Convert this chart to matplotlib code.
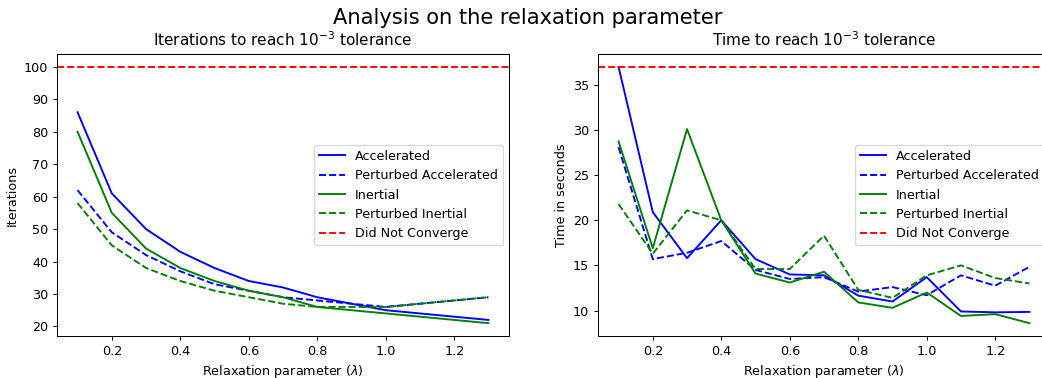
import numpy as np
import matplotlib
matplotlib.use("Agg")
import matplotlib.pyplot as plt

# relaxation parameter values
lam = [0.1, 0.2, 0.3, 0.4, 0.5, 0.6, 0.7, 0.8, 0.9, 1.0, 1.1, 1.2, 1.3]

# iterations to reach tolerance
it_acc = [86, 61, 50, 43, 38, 34, 32, 29, 27, 25, 24, 23, 22]
it_pacc = [62, 49, 42, 37, 33, 31, 29, 28, 27, 26, 27, 28, 29]
it_inert = [80, 55, 44, 38, 34, 31, 29, 26, 25, 24, 23, 22, 21]
it_pinert = [58, 45, 38, 34, 31, 29, 27, 26, 26, 26, 27, 28, 29]
it_max = 100

# time to reach tolerance (seconds)
t_acc = [37.0, 20.9, 15.8, 20.0, 15.7, 14.0, 13.9, 11.65, 11.0, 13.7, 9.9, 9.8, 9.85]
t_pacc = [28.1, 15.7, 16.4, 17.7, 14.5, 13.5, 13.7, 12.1, 12.6, 11.7, 13.9, 12.75, 14.85]
t_inert = [28.75, 16.9, 30.1, 20.0, 14.1, 13.1, 14.3, 10.9, 10.3, 12.0, 9.4, 9.6, 8.6]
t_pinert = [21.8, 16.3, 21.1, 20.0, 14.6, 14.6, 18.3, 12.3, 11.4, 13.9, 15.0, 13.6, 13.0]
t_max = 37

dpi = 91.5
fig, (ax1, ax2) = plt.subplots(1, 2, figsize=(1042 / dpi, 378 / dpi), dpi=dpi)
# the original figure was cropped a little on the right
ax1.set_position([57 / 1042, 42 / 378, 452 / 1042, 282 / 378])
ax2.set_position([598 / 1042, 42 / 378, 452 / 1042, 282 / 378])

for ax, data, cap, title, ylabel in [
    (ax1, (it_acc, it_pacc, it_inert, it_pinert), it_max,
     'Iterations to reach $10^{-3}$ tolerance', 'Iterations'),
    (ax2, (t_acc, t_pacc, t_inert, t_pinert), t_max,
     'Time to reach $10^{-3}$ tolerance', 'Time in seconds'),
]:
    ax.plot(lam, data[0], 'b-', label='Accelerated')
    ax.plot(lam, data[1], 'b--', label='Perturbed Accelerated')
    ax.plot(lam, data[2], 'g-', label='Inertial')
    ax.plot(lam, data[3], 'g--', label='Perturbed Inertial')
    ax.axhline(cap, color='r', linestyle='--', label='Did Not Converge')
    ax.set_title(title)
    ax.set_xlabel(r'Relaxation parameter ($\lambda$)')
    ax.set_ylabel(ylabel)
    ax.legend(loc='center right')

fig.suptitle('Analysis on the relaxation parameter', fontsize=16.5, x=528 / 1042)
fig.savefig('out.png', dpi=dpi)
